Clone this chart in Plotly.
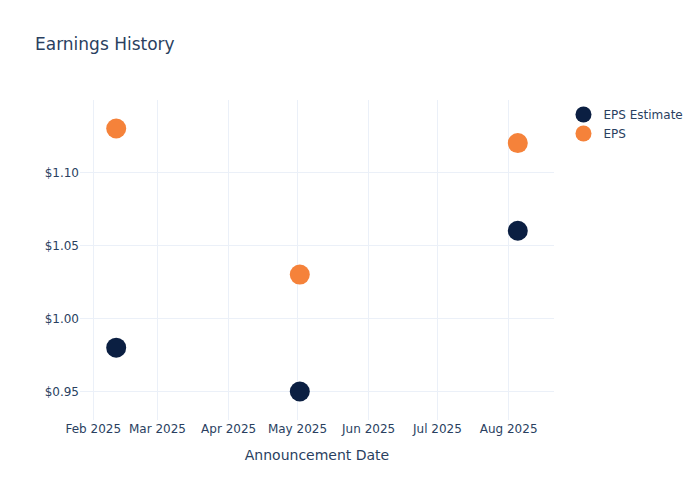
import plotly.graph_objects as go

dates = ["2025-02-11", "2025-05-02", "2025-08-05"]
eps_estimate = [0.98, 0.95, 1.06]
eps_actual = [1.13, 1.03, 1.12]

fig = go.Figure()
fig.add_trace(go.Scatter(x=dates, y=eps_estimate, mode="markers", name="EPS Estimate",
                         marker=dict(color="#0b1f42", size=20)))
fig.add_trace(go.Scatter(x=dates, y=eps_actual, mode="markers", name="EPS",
                         marker=dict(color="#f5823a", size=20)))
fig.update_layout(
    template="plotly_white",
    width=700, height=500,
    title=dict(text="Earnings History"),
    xaxis=dict(title=dict(text="Announcement Date"), tickformat="%b %Y", dtick="M1"),
    yaxis=dict(tickprefix="$", tickformat=".2f"),
    font=dict(family="DejaVu Sans, Open Sans, sans-serif"),
)
fig.write_html("out.html", post_script="document.body.style.margin='0';",
               config={"displayModeBar": False})
